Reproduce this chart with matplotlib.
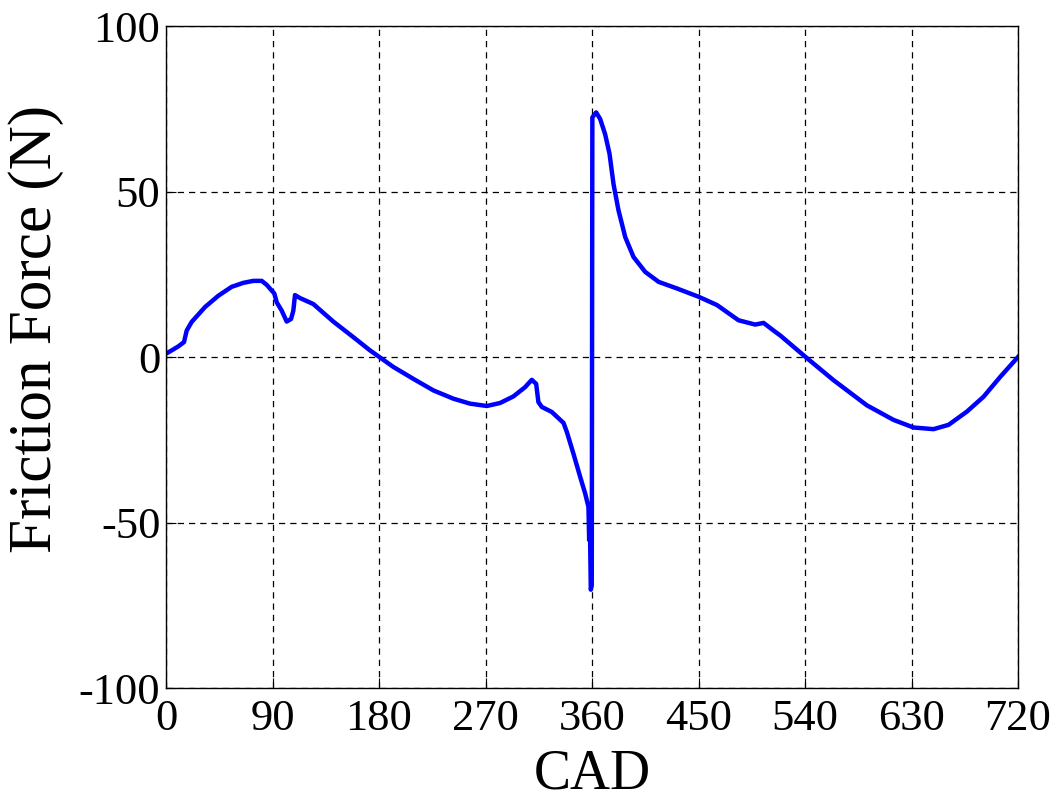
import matplotlib
matplotlib.use("Agg")
import matplotlib.pyplot as plt

cad = [0, 4.8, 10.4, 15.2, 17.5, 21.7, 33, 44.2, 55.5, 65.3, 73.8, 80.9, 85.1,
       91.5, 93.6, 97.8, 102, 105.7, 107.6, 109, 113.3, 124.5, 141.4, 158.3,
       172.4, 180.3, 192.1, 209, 226, 242.9, 257, 271.1, 282.3, 293.6, 303.5,
       309.1, 312.8, 314.7, 317.6, 326, 335.9, 338.7, 344.3, 350, 354.2, 357,
       357.6, 358.2, 359, 359.8, 360.3, 363.5, 366.9, 371.1, 374.8, 378.2,
       382.4, 388.1, 395.1, 405, 416.3, 431.8, 450.1, 465.6, 483.8, 497.9,
       505, 513.4, 519.1, 540.5, 564.1, 592.3, 614.8, 631.7, 648.6, 661.3,
       676.8, 690.9, 705, 720]
force = [1.0, 2, 3.2, 4.5, 8, 10.6, 15.1, 18.5, 21.2, 22.4, 23, 23, 21.8,
         19.2, 16.5, 14, 10.7, 11.5, 14, 18.7, 17.8, 16, 10.7, 6,
         2, 0, -3, -6.6, -10.1, -12.6, -14.1, -14.8, -13.9, -11.9, -9.1,
         -6.9, -8.1, -13.6, -15.1, -16.6, -19.9, -22.6, -29.2, -36.2, -41.2, -45.3,
         -55.3, -50, -70.3, -69, 72.4, 73.9, 71.9, 67.3, 61.4, 52.2,
         44.3, 36.2, 30.2, 25.7, 22.7, 20.7, 18.2, 15.7, 11.1, 9.8,
         10.3, 8, 6.5, 0, -7, -14.6, -19, -21.3, -21.8, -20.5,
         -16.5, -12, -6, 0]

xticks = [0, 90, 180, 270, 360, 450, 540, 630, 720]
yticks = [-100, -50, 0, 50, 100]

plt.rcParams['font.family'] = ['Liberation Serif', 'DejaVu Serif']
plt.rcParams['axes.unicode_minus'] = False

fig = plt.figure(figsize=(10.62, 7.99), dpi=100)
ax = fig.add_axes([166/1062, 1-688/799, (1018-166)/1062, (688-26)/799])
ax.plot(cad, force, color='#0000ff', lw=3.2)
ax.set_xlim(0, 720)
ax.set_ylim(-100, 100)
ax.set_xticks(xticks)
ax.set_yticks(yticks)
ax.grid(True, color='black', linestyle=(0, (5, 4)), lw=0.9)
ax.tick_params(direction='in', length=7, labelsize=32, pad=8)
ax.tick_params(axis='y', pad=4)
for s in ax.spines.values():
    s.set_linewidth(1.0)
ax.set_xlabel('CAD', fontsize=40, labelpad=7)
ax.set_ylabel('Friction Force (N)', fontsize=44)
ax.yaxis.set_label_coords(-0.12, 0.542)
fig.savefig('out.png', dpi=100)
